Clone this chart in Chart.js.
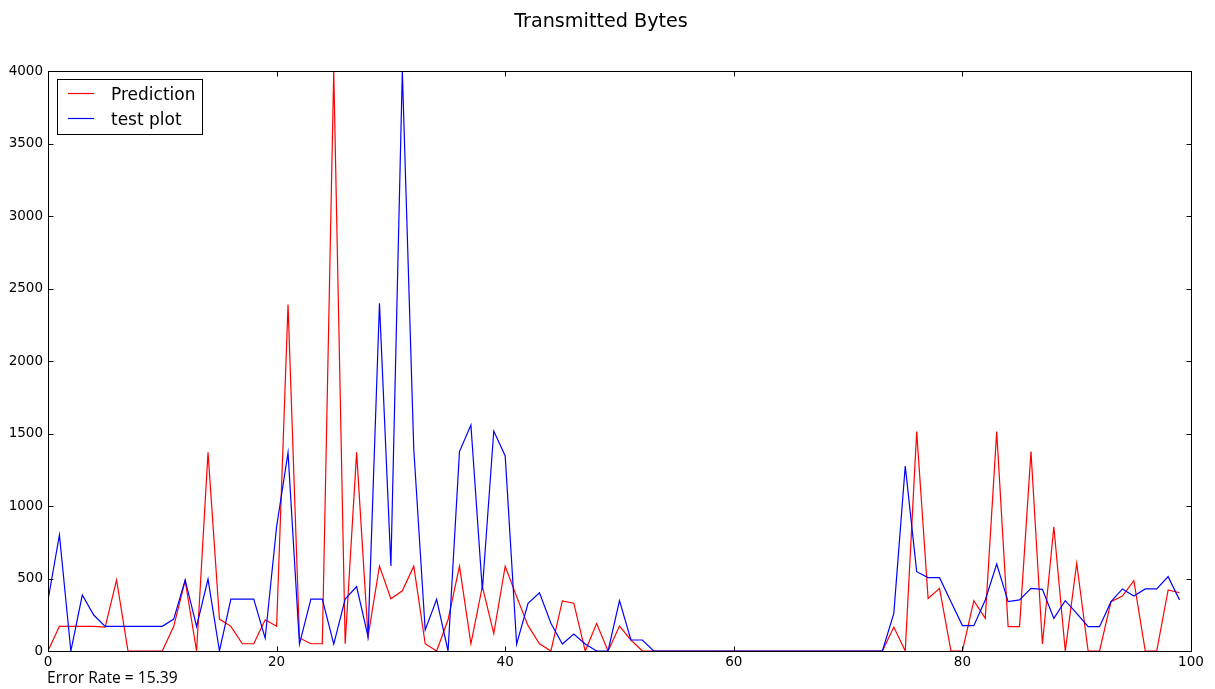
<!DOCTYPE html>
<html>
<head>
<meta charset="utf-8">
<script src="https://cdn.jsdelivr.net/npm/chart.js@4.4.1/dist/chart.umd.min.js"></script>
<style>
  html, body { margin: 0; padding: 0; background: #ffffff; }
  #wrap { width: 1215px; height: 689px; position: relative; }
  canvas { display: block; }
</style>
</head>
<body>
<div id="wrap"><canvas id="c" width="1215" height="689"></canvas></div>
<script>
// ---- data ----
const chartTitle = 'Transmitted Bytes';
const footText = 'Error Rate = 15.39';
const steps = [
  0,1,2,3,4,5,6,7,8,9,10,11,12,13,14,15,16,17,18,19,
  20,21,22,23,24,25,26,27,28,29,30,31,32,33,34,35,36,37,38,39,
  40,41,42,43,44,45,46,47,48,49,50,51,52,53,54,55,56,57,58,59,
  60,61,62,63,64,65,66,67,68,69,70,71,72,73,74,75,76,77,78,79,
  80,81,82,83,84,85,86,87,88,89,90,91,92,93,94,95,96,97,98,99
];
const predictionLabel = 'Prediction';
const prediction = [
  0,170,170,170,170,165,490,0,0,0,            // 0-9
  0,170,485,0,1370,220,170,50,50,215,         // 10-19
  170,2390,90,50,50,4000,50,1370,100,585,     // 20-29
  360,415,585,50,0,215,585,50,445,120,        // 30-39
  585,375,175,50,0,345,330,0,190,0,           // 40-49
  172,76,0,0,0,0,0,0,0,0,                     // 50-59
  0,0,0,0,0,0,0,0,0,0,                        // 60-69
  0,0,0,0,165,0,1513,362,432,0,               // 70-79
  0,347,225,1513,168,168,1375,48,857,0,       // 80-89
  605,0,0,340,379,485,0,0,421,402             // 90-99
];
const testLabel = 'test plot';
const testPlot = [
  350,800,0,386,248,170,170,170,170,170,      // 0-9
  170,220,490,170,496,0,358,358,358,88,       // 10-19
  857,1368,48,358,358,48,358,444,99,2398,     // 20-29
  586,4000,1395,145,356,0,1375,1559,421,1517, // 30-39
  1345,48,329,402,191,48,117,48,0,0,          // 40-49
  347,76,76,0,0,0,0,0,0,0,                    // 50-59
  0,0,0,0,0,0,0,0,0,0,                        // 60-69
  0,0,0,0,260,1276,547,506,506,340,           // 70-79
  175,175,352,600,340,352,432,425,225,347,    // 80-89
  260,168,168,340,428,379,428,428,513,352     // 90-99
];
const xTicks = [0, 20, 40, 60, 80, 100];
const yTicks = [0, 500, 1000, 1500, 2000, 2500, 3000, 3500, 4000];

const FONT = "'DejaVu Sans', sans-serif";

// title, frame, inward ticks, legend, footnote
const mplPlugin = {
  id: 'mplDecor',
  afterDraw(chart) {
    const ctx = chart.ctx;
    const a = chart.chartArea;
    const xs = chart.scales.x, ys = chart.scales.y;
    const L = Math.round(a.left) + 0.5, R = Math.round(a.right) + 0.5;
    const T = Math.round(a.top) + 0.5, B = Math.round(a.bottom) + 0.5;
    ctx.save();

    // title
    ctx.fillStyle = '#000';
    ctx.font = "19.2px " + FONT;
    ctx.textAlign = 'center';
    ctx.textBaseline = 'alphabetic';
    ctx.fillText(chartTitle, 601, 27);

    ctx.strokeStyle = '#000';
    ctx.lineWidth = 1;
    // inward ticks
    const tl = 5;
    ctx.beginPath();
    xTicks.forEach(v => {
      const px = Math.round(xs.getPixelForValue(v)) + 0.5;
      ctx.moveTo(px, B); ctx.lineTo(px, B - tl);
      ctx.moveTo(px, T); ctx.lineTo(px, T + tl);
    });
    yTicks.forEach(v => {
      const py = Math.round(ys.getPixelForValue(v)) + 0.5;
      ctx.moveTo(L, py); ctx.lineTo(L + tl, py);
      ctx.moveTo(R, py); ctx.lineTo(R - tl, py);
    });
    ctx.stroke();
    // frame
    ctx.strokeRect(L, T, R - L, B - T);

    // legend
    const lx = 57.5, ly = 79.5, lw = 145, lh = 55;
    ctx.fillStyle = '#fff';
    ctx.fillRect(lx, ly, lw, lh);
    ctx.strokeStyle = '#000';
    ctx.strokeRect(lx, ly, lw, lh);
    const items = chart.data.datasets;
    const rowY = [93.5, 118.5];
    const baseY = [99.5, 124.5];
    items.forEach((ds, i) => {
      ctx.strokeStyle = ds.borderColor;
      ctx.lineWidth = 1.2;
      ctx.beginPath();
      ctx.moveTo(68, rowY[i]); ctx.lineTo(94, rowY[i]);
      ctx.stroke();
      ctx.fillStyle = '#000';
      ctx.font = "17px " + FONT;
      ctx.textAlign = 'left';
      ctx.textBaseline = 'alphabetic';
      ctx.fillText(ds.label, 111, baseY[i]);
    });

    // footnote
    ctx.fillStyle = '#000';
    ctx.font = "15.6px 'Open Sans', 'DejaVu Sans', sans-serif";
    ctx.textAlign = 'left';
    ctx.textBaseline = 'alphabetic';
    ctx.fillText(footText, 47, 683);
    ctx.restore();
  }
};

new Chart(document.getElementById('c'), {
  type: 'line',
  data: {
    labels: steps,
    datasets: [
      {
        label: predictionLabel,
        data: prediction,
        borderColor: '#ff0000',
        backgroundColor: '#ff0000',
        borderWidth: 1.2,
        pointRadius: 0,
        tension: 0,
        fill: false,
        order: 1
      },
      {
        label: testLabel,
        data: testPlot,
        borderColor: '#0000ff',
        backgroundColor: '#0000ff',
        borderWidth: 1.2,
        pointRadius: 0,
        tension: 0,
        fill: false,
        order: 0
      }
    ]
  },
  options: {
    responsive: false,
    animation: false,
    events: [],
    layout: { padding: { left: 0, right: 24, top: 71, bottom: 0 } },
    plugins: {
      legend: { display: false },
      tooltip: { enabled: false },
      title: { display: false }
    },
    scales: {
      x: {
        type: 'linear',
        min: 0, max: 100,
        afterBuildTicks(scale) { scale.ticks = xTicks.map(v => ({ value: v })); },
        afterFit(scale) { scale.height = 38; },
        grid: { display: false, drawTicks: false },
        border: { display: false },
        ticks: {
          color: '#000',
          font: { family: FONT, size: 13.5 },
          padding: 3,
          maxRotation: 0,
          autoSkip: false,
          callback: (v) => String(v)
        }
      },
      y: {
        type: 'linear',
        min: 0, max: 4000,
        afterBuildTicks(scale) { scale.ticks = yTicks.map(v => ({ value: v })); },
        afterFit(scale) { scale.width = 48; },
        grid: { display: false, drawTicks: false },
        border: { display: false },
        ticks: {
          color: '#000',
          font: { family: FONT, size: 13.5 },
          padding: 5,
          autoSkip: false,
          callback: (v) => String(v)
        }
      }
    }
  },
  plugins: [mplPlugin]
});
</script>
</body>
</html>
